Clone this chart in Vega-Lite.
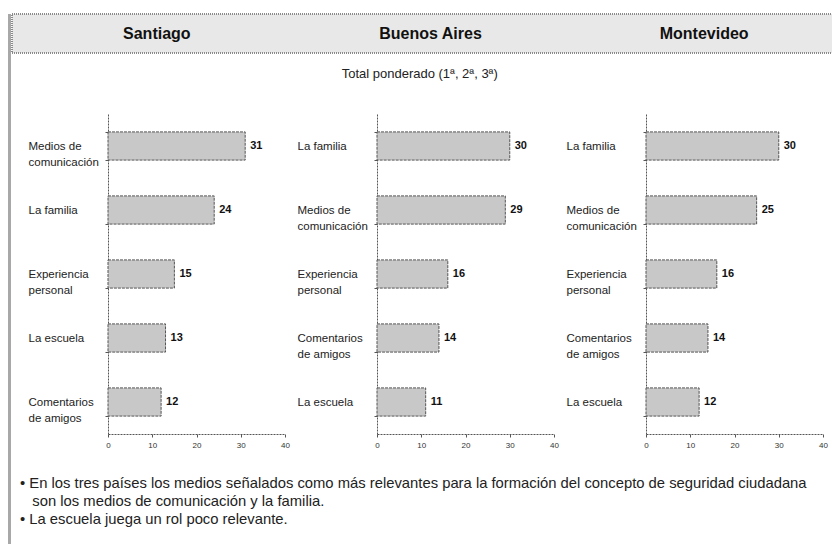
{
  "$schema": "https://vega.github.io/schema/vega-lite/v6.json",
  "padding": {"left": 8, "top": 13, "right": 0, "bottom": 0},
  "background": "white",
  "datasets": {
    "medios": [
      {"ciudad": "Santiago", "medio": "Medios de comunicación", "valor": 31},
      {"ciudad": "Santiago", "medio": "La familia", "valor": 24},
      {"ciudad": "Santiago", "medio": "Experiencia personal", "valor": 15},
      {"ciudad": "Santiago", "medio": "La escuela", "valor": 13},
      {"ciudad": "Santiago", "medio": "Comentarios de amigos", "valor": 12},
      {"ciudad": "Buenos Aires", "medio": "La familia", "valor": 30},
      {"ciudad": "Buenos Aires", "medio": "Medios de comunicación", "valor": 29},
      {"ciudad": "Buenos Aires", "medio": "Experiencia personal", "valor": 16},
      {"ciudad": "Buenos Aires", "medio": "Comentarios de amigos", "valor": 14},
      {"ciudad": "Buenos Aires", "medio": "La escuela", "valor": 11},
      {"ciudad": "Montevideo", "medio": "La familia", "valor": 30},
      {"ciudad": "Montevideo", "medio": "Medios de comunicación", "valor": 25},
      {"ciudad": "Montevideo", "medio": "Experiencia personal", "valor": 16},
      {"ciudad": "Montevideo", "medio": "Comentarios de amigos", "valor": 14},
      {"ciudad": "Montevideo", "medio": "La escuela", "valor": 12}
    ],
    "ciudades": [
      {"ciudad": "Santiago"},
      {"ciudad": "Buenos Aires"},
      {"ciudad": "Montevideo"}
    ]
  },
  "config": {
    "view": {"stroke": null},
    "font": "Liberation Sans",
    "title": {"font": "Liberation Sans", "fontWeight": "normal", "color": "#222"}
  },
  "spacing": 0,
  "hconcat": [
    {
      "width": 3,
      "height": 530,
      "view": {"fill": "#a8a8a8", "stroke": null},
      "data": {"values": [{}]},
      "mark": {"type": "text"},
      "encoding": {"text": {"value": ""}}
    },
    {
      "spacing": 14,
      "title": {
        "text": [
          "• En los tres países los medios señalados como más relevantes para la formación del concepto de seguridad ciudadana",
          "\u200b\u00a0\u00a0\u00a0son los medios de comunicación y la familia.",
          "• La escuela juega un rol poco relevante."
        ],
        "orient": "bottom",
        "anchor": "start",
        "offset": 27,
        "fontSize": 14.8,
        "lineHeight": 18,
        "dx": 9
      },
      "vconcat": [
        {
          "width": 821,
          "height": 39,
          "view": {"fill": "#e8e8e8", "stroke": "#8a8a8a", "strokeWidth": 2, "strokeDash": [1, 1]},
          "data": {"name": "ciudades"},
          "mark": {"type": "text", "fontWeight": "bold", "fontSize": 16, "color": "#111", "dx": 8},
          "encoding": {
            "x": {"field": "ciudad", "type": "nominal", "sort": null, "axis": null, "scale": {"padding": 0.5}},
            "text": {"field": "ciudad"}
          }
        },
        {
          "title": {"text": "Total ponderado (1ª, 2ª, 3ª)", "fontSize": 13, "offset": 27, "anchor": "middle"},
          "spacing": 7,
          "hconcat": [
            {
              "width": 9,
              "height": 320,
              "data": {"values": [{}]},
              "mark": {"type": "text"},
              "encoding": {"text": {"value": ""}}
            },
            {
              "width": 177,
              "height": 320,
              "data": {"name": "medios"},
              "transform": [{"filter": "datum.ciudad == 'Santiago'"}],
              "encoding": {
                "y": {
                  "field": "medio", "type": "nominal",
                  "sort": {"field": "valor", "order": "descending"},
                  "scale": {"paddingInner": 0.56, "paddingOuter": 0.28},
                  "axis": {
                    "title": null, "domainDash": [2, 1], "domainColor": "#555", "tickColor": "#555",
                    "tickSize": 3, "tickBand": "extent", "labelAlign": "left", "labelPadding": 77,
                    "labelFontSize": 11.5, "labelColor": "#222", "labelLineHeight": 16, "labelLimit": 0,
                    "labelExpr": "datum.value == 'Medios de comunicación' ? ['Medios de', 'comunicación'] : datum.value == 'Experiencia personal' ? ['Experiencia', 'personal'] : datum.value == 'Comentarios de amigos' ? ['Comentarios', 'de amigos'] : datum.value"
                  }
                },
                "x": {
                  "field": "valor", "type": "quantitative",
                  "scale": {"domain": [0, 40]},
                  "axis": {
                    "title": null, "values": [0, 10, 20, 30, 40], "labelFontSize": 8, "labelFlush": false,
                    "tickSize": 3, "domainDash": [2, 1], "domainColor": "#555", "tickColor": "#555",
                    "grid": false, "labelPadding": 4, "labelColor": "#333"
                  }
                }
              },
              "layer": [
                {"mark": {"type": "bar", "fill": "#c8c8c8", "stroke": "#555", "strokeWidth": 1, "strokeDash": [3, 1]}},
                {"mark": {"type": "text", "align": "left", "dx": 5, "fontWeight": "bold", "fontSize": 11, "color": "#111"},
                 "encoding": {"text": {"field": "valor", "type": "quantitative"}}}
              ]
            },
            {
              "width": 177,
              "height": 320,
              "data": {"name": "medios"},
              "transform": [{"filter": "datum.ciudad == 'Buenos Aires'"}],
              "encoding": {
                "y": {
                  "field": "medio", "type": "nominal",
                  "sort": {"field": "valor", "order": "descending"},
                  "scale": {"paddingInner": 0.56, "paddingOuter": 0.28},
                  "axis": {
                    "title": null, "domainDash": [2, 1], "domainColor": "#555", "tickColor": "#555",
                    "tickSize": 3, "tickBand": "extent", "labelAlign": "left", "labelPadding": 77,
                    "labelFontSize": 11.5, "labelColor": "#222", "labelLineHeight": 16, "labelLimit": 0,
                    "labelExpr": "datum.value == 'Medios de comunicación' ? ['Medios de', 'comunicación'] : datum.value == 'Experiencia personal' ? ['Experiencia', 'personal'] : datum.value == 'Comentarios de amigos' ? ['Comentarios', 'de amigos'] : datum.value"
                  }
                },
                "x": {
                  "field": "valor", "type": "quantitative",
                  "scale": {"domain": [0, 40]},
                  "axis": {
                    "title": null, "values": [0, 10, 20, 30, 40], "labelFontSize": 8, "labelFlush": false,
                    "tickSize": 3, "domainDash": [2, 1], "domainColor": "#555", "tickColor": "#555",
                    "grid": false, "labelPadding": 4, "labelColor": "#333"
                  }
                }
              },
              "layer": [
                {"mark": {"type": "bar", "fill": "#c8c8c8", "stroke": "#555", "strokeWidth": 1, "strokeDash": [3, 1]}},
                {"mark": {"type": "text", "align": "left", "dx": 5, "fontWeight": "bold", "fontSize": 11, "color": "#111"},
                 "encoding": {"text": {"field": "valor", "type": "quantitative"}}}
              ]
            },
            {
              "width": 177,
              "height": 320,
              "data": {"name": "medios"},
              "transform": [{"filter": "datum.ciudad == 'Montevideo'"}],
              "encoding": {
                "y": {
                  "field": "medio", "type": "nominal",
                  "sort": {"field": "valor", "order": "descending"},
                  "scale": {"paddingInner": 0.56, "paddingOuter": 0.28},
                  "axis": {
                    "title": null, "domainDash": [2, 1], "domainColor": "#555", "tickColor": "#555",
                    "tickSize": 3, "tickBand": "extent", "labelAlign": "left", "labelPadding": 77,
                    "labelFontSize": 11.5, "labelColor": "#222", "labelLineHeight": 16, "labelLimit": 0,
                    "labelExpr": "datum.value == 'Medios de comunicación' ? ['Medios de', 'comunicación'] : datum.value == 'Experiencia personal' ? ['Experiencia', 'personal'] : datum.value == 'Comentarios de amigos' ? ['Comentarios', 'de amigos'] : datum.value"
                  }
                },
                "x": {
                  "field": "valor", "type": "quantitative",
                  "scale": {"domain": [0, 40]},
                  "axis": {
                    "title": null, "values": [0, 10, 20, 30, 40], "labelFontSize": 8, "labelFlush": false,
                    "tickSize": 3, "domainDash": [2, 1], "domainColor": "#555", "tickColor": "#555",
                    "grid": false, "labelPadding": 4, "labelColor": "#333"
                  }
                }
              },
              "layer": [
                {"mark": {"type": "bar", "fill": "#c8c8c8", "stroke": "#555", "strokeWidth": 1, "strokeDash": [3, 1]}},
                {"mark": {"type": "text", "align": "left", "dx": 5, "fontWeight": "bold", "fontSize": 11, "color": "#111"},
                 "encoding": {"text": {"field": "valor", "type": "quantitative"}}}
              ]
            }
          ]
        }
      ]
    }
  ]
}
